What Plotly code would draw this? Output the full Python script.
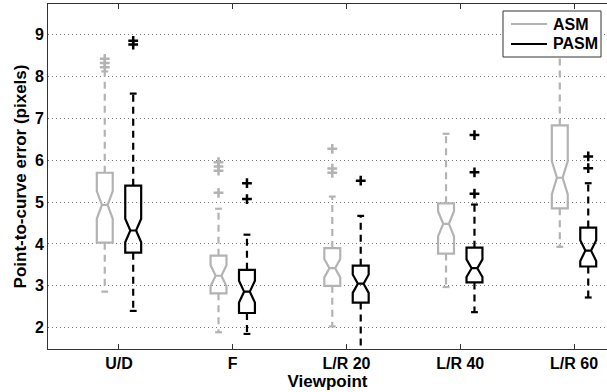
import plotly.graph_objects as go

categories = ["U/D", "F", "L/R 20", "L/R 40", "L/R 60"]

# ASM statistics
asm_q1 = [4.03, 2.82, 3.00, 3.77, 4.85]
asm_median = [4.93, 3.24, 3.42, 4.48, 5.58]
asm_q3 = [5.70, 3.72, 3.90, 4.97, 6.83]
asm_lo = [2.86, 1.89, 2.03, 2.97, 3.93]
asm_hi = [8.12, 4.84, 5.13, 6.63, 9.10]
asm_notch = [0.33, 0.25, 0.22, 0.30, 0.40]
asm_outliers = [[8.42, 8.32, 8.22], [5.95, 5.85, 5.75, 5.22], [6.27, 5.80, 5.70], [], []]

# PASM statistics
pasm_q1 = [3.79, 2.35, 2.60, 3.08, 3.46]
pasm_median = [4.32, 2.86, 3.05, 3.42, 3.84]
pasm_q3 = [5.39, 3.38, 3.48, 3.91, 4.39]
pasm_lo = [2.40, 1.85, 1.20, 2.37, 2.72]
pasm_hi = [7.59, 4.22, 4.67, 4.94, 5.45]
pasm_notch = [0.28, 0.26, 0.22, 0.21, 0.25]
pasm_outliers = [[8.85, 8.76], [5.45, 5.07], [5.51], [6.60, 5.71, 5.20], [6.09, 5.81]]

series_names = ["ASM", "PASM"]
y_ticks = [2, 3, 4, 5, 6, 7, 8, 9]

GRAY = "#b3b3b3"
BLACK = "#000000"
OFFSET = 0.125
BOX_W = 0.14
CAP_HALF = 0.03
FONT = "Liberation Sans"
W, H = 607, 392
ML, MR, MT, MB = 48, 0, 4, 43
PW, PH = W - ML - MR, H - MT - MB


def px_x(px):
    return (px - ML) / PW


def px_y(py):
    return (H - MB - py) / PH


fig = go.Figure()

series = [
    (series_names[0], GRAY, -OFFSET, asm_q1, asm_median, asm_q3, asm_lo, asm_hi, asm_notch, asm_outliers),
    (series_names[1], BLACK, OFFSET, pasm_q1, pasm_median, pasm_q3, pasm_lo, pasm_hi, pasm_notch, pasm_outliers),
]

for name, color, off, q1, med, q3, lo, hi, notch, outl in series:
    pos = [i + 1 + off for i in range(len(categories))]
    wx, wy, cx, cy = [], [], [], []
    for p, a, b, l, h in zip(pos, q1, q3, lo, hi):
        wx += [p, p, None, p, p, None]
        wy += [b, h, None, a, l, None]
        cx += [p - CAP_HALF, p + CAP_HALF, None, p - CAP_HALF, p + CAP_HALF, None]
        cy += [h, h, None, l, l, None]
    fig.add_trace(go.Scatter(x=wx, y=wy, mode="lines", showlegend=False, hoverinfo="skip",
                             line=dict(color=color, width=2.2, dash="7px,5px")))
    fig.add_trace(go.Scatter(x=cx, y=cy, mode="lines", showlegend=False, hoverinfo="skip",
                             line=dict(color=color, width=2.2)))
    fig.add_trace(go.Box(x=pos, q1=q1, median=med, q3=q3, lowerfence=q1, upperfence=q3,
                         notched=True, notchspan=notch, notchwidth=0.32, width=BOX_W,
                         whiskerwidth=0, line=dict(color=color, width=2.2), name=name,
                         fillcolor="rgba(0,0,0,0)", showlegend=False, boxpoints=False))
    ox, oy = [], []
    for p, vals in zip(pos, outl):
        for v in vals:
            ox.append(p)
            oy.append(v)
    fig.add_trace(go.Scatter(x=ox, y=oy, mode="markers", showlegend=False, name=name,
                             marker=dict(symbol="cross-thin", size=7,
                                         line=dict(color=color, width=2.5))))

# legend drawn inside the axes, top-right
shapes = [dict(type="rect", xref="paper", yref="paper",
               x0=px_x(503), x1=px_x(601), y0=px_y(57), y1=px_y(11),
               line=dict(color="#333333", width=1), fillcolor="white", layer="above")]
annotations = []
for name, color, py in [(series_names[0], GRAY, 24), (series_names[1], BLACK, 44)]:
    shapes.append(dict(type="line", xref="paper", yref="paper",
                       x0=px_x(511), x1=px_x(547), y0=px_y(py), y1=px_y(py),
                       line=dict(color=color, width=2), layer="above"))
    annotations.append(dict(text=name, xref="paper", yref="paper", x=px_x(551), y=px_y(py),
                            xanchor="left", yanchor="middle", showarrow=False,
                            font=dict(family=FONT, size=16, weight="bold", color="black")))

fig.update_layout(
    width=W, height=H,
    margin=dict(l=ML, r=MR, t=MT, b=MB),
    paper_bgcolor="white", plot_bgcolor="white",
    font=dict(family=FONT, size=16, color="black", weight="bold"),
    showlegend=False,
    shapes=shapes, annotations=annotations,
)
fig.update_xaxes(
    range=[0.376, 5.29], tickmode="array", tickvals=list(range(1, len(categories) + 1)),
    ticktext=categories, ticks="inside", ticklen=5, tickcolor="#333333",
    showline=True, linecolor="#333333", linewidth=1, mirror="ticks",
    showgrid=False, zeroline=False,
    tickfont=dict(family=FONT, size=16, weight="bold"),
    title=dict(text="Viewpoint", font=dict(family=FONT, size=17, weight="bold"), standoff=0),
)
fig.update_yaxes(
    range=[1.49, 9.73], tickmode="array", tickvals=y_ticks, ticks="",
    showline=True, linecolor="#333333", linewidth=1, mirror=False,
    showgrid=True, gridcolor="#777777", griddash="1px,3px", gridwidth=1, zeroline=False,
    tickfont=dict(family=FONT, size=16, weight="bold"),
    title=dict(text="Point-to-curve error (pixels)", font=dict(family=FONT, size=17, weight="bold"), standoff=3),
)

fig.write_html("out.html")
